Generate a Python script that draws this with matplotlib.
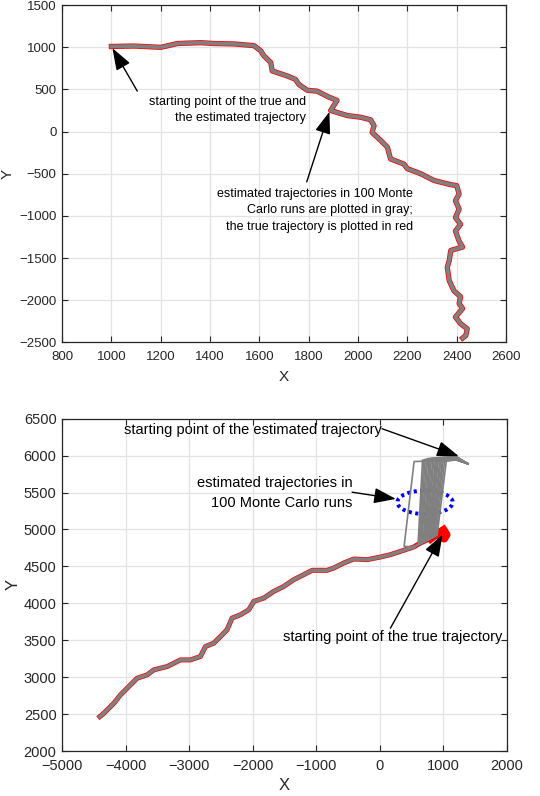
import numpy as np
import matplotlib
matplotlib.use("Agg")
import matplotlib.pyplot as plt
from matplotlib.patches import Ellipse

plt.rcParams['font.family'] = ['Liberation Sans', 'DejaVu Sans']

# ---- top panel: true trajectory (x, y) ----
top_x = [1000, 1092, 1200, 1268, 1362, 1416, 1497, 1578, 1605, 1618, 1646, 1652,
         1672, 1713, 1746, 1760, 1794, 1834, 1881, 1915, 1902, 1889, 1957, 2011,
         2051, 2065, 2057, 2092, 2119, 2132, 2186, 2200, 2254, 2308, 2376, 2400,
         2410, 2395, 2410, 2395, 2416, 2395, 2410, 2424, 2376, 2370, 2362, 2370,
         2389, 2416, 2410, 2424, 2395, 2416, 2443, 2437, 2424]
top_y = [1010, 1015, 1000, 1045, 1055, 1045, 1040, 1020, 960, 900, 820, 720,
         700, 660, 620, 560, 490, 480, 410, 370, 310, 250, 190, 170,
         140, 70, -10, -105, -185, -325, -385, -440, -500, -580, -630, -640,
         -740, -820, -920, -1020, -1100, -1180, -1300, -1370, -1410, -1530, -1610, -1770,
         -1890, -1960, -2040, -2100, -2200, -2280, -2340, -2420, -2450]

# ---- bottom panel: true trajectory ----
bot_x = [1000, 1045, 1010, 960, 900, 860, 800, 637, 532, 323, 165, 8,
         -202, -411, -569, -726, -831, -1067, -1198, -1356, -1513, -1670, -1827, -1985,
         -2063, -2195, -2326, -2405, -2509, -2614, -2745, -2824, -2981, -3138, -3348, -3558,
         -3663, -3820, -3951, -4082, -4187, -4344, -4407]
bot_y = [4990, 4930, 4880, 4900, 4960, 4920, 4880, 4817, 4763, 4704, 4659, 4627,
         4591, 4600, 4546, 4478, 4447, 4447, 4388, 4320, 4229, 4162, 4071, 4026,
         3913, 3845, 3800, 3642, 3551, 3461, 3415, 3280, 3234, 3234, 3144, 3099,
         3031, 2986, 2873, 2760, 2646, 2511, 2466]

# estimated runs (bottom): start point, top turning point, bottom of the drop
est_start = (1385, 5890)
run_top_x = [538, 670, 690, 710, 730, 750, 770, 790, 810, 830, 850, 870, 890,
             905, 920, 940, 960, 980, 1000, 1020, 1045]
run_top_y = [5940, 5960, 5950, 5970, 5945, 5980, 5955, 5965, 5985, 5950, 5970,
             5940, 5975, 5960, 5990, 5950, 5965, 5945, 5980, 5960, 5950]
run_bot_x = [380, 600, 615, 630, 645, 660, 680, 695, 710, 725, 740, 755, 770,
             785, 800, 815, 830, 845, 860, 880, 900]
run_bot_y = [4772, 4798, 4806, 4813, 4821, 4826, 4833, 4839, 4845, 4851, 4856,
             4862, 4868, 4874, 4880, 4886, 4892, 4898, 4905, 4915, 4925]
merge_pt = (532, 4763)

RED = '#ff0000'
GRAY = '#808080'
DARK = '#262626'


def style(ax, fs):
    ax.grid(True, color='#e3e3e3', lw=0.9)
    ax.set_axisbelow(True)
    ax.tick_params(direction='in', top=True, right=True, length=4,
                   width=0.8, colors=DARK, labelsize=fs, pad=4)
    ax.tick_params(axis='x', pad=6)
    for sp in ax.spines.values():
        sp.set_color(DARK)
        sp.set_linewidth(0.9)


def arrow(ax, tail, tip):
    ax.annotate('', xy=tip, xytext=tail,
                arrowprops=dict(arrowstyle='-|>,head_length=0.9,head_width=0.32',
                                color='k', lw=1.0, shrinkA=0, shrinkB=0,
                                mutation_scale=15))


fig = plt.figure(figsize=(5.4, 7.96), dpi=100)

# ---------------- top ----------------
ax1 = fig.add_axes([0.115, 0.570, 0.822, 0.4235])
ax1.plot(top_x, top_y, color=RED, lw=3.8, solid_joinstyle='round')
ax1.plot(top_x, top_y, color=GRAY, lw=2.7, solid_joinstyle='round')
ax1.set_xlim(800, 2600)
ax1.set_ylim(-2500, 1500)
ax1.set_xticks(np.arange(800, 2601, 200))
ax1.set_yticks(np.arange(-2500, 1501, 500))
style(ax1, 9.5)
ax1.set_xlabel('X', fontsize=11, color=DARK, labelpad=5)
ax1.set_ylabel('Y', fontsize=11, color=DARK, labelpad=3)

ax1.text(1790, 255, 'starting point of the true and\nthe estimated trajectory',
         ha='right', va='center', fontsize=9, linespacing=1.45)
arrow(ax1, (1105, 480), (1004, 990))
ax1.text(2222, -936, 'estimated trajectories in 100 Monte\nCarlo runs are plotted in gray;\n'
         'the true trajectory is plotted in red',
         ha='right', va='center', fontsize=9, linespacing=1.45)
arrow(ax1, (1792, -597), (1884, 235))

# ---------------- bottom ----------------
ax2 = fig.add_axes([0.115, 0.0565, 0.824, 0.4175])
ax2.plot(bot_x, bot_y, color=RED, lw=3.6, solid_joinstyle='round')
# red start blob
ax2.plot(bot_x[:7], bot_y[:7], color=RED, lw=6, solid_joinstyle='round')
for tx, ty, bx, by in zip(run_top_x, run_top_y, run_bot_x, run_bot_y):
    xs = [est_start[0], 1200, tx, bx, merge_pt[0]]
    ys = [est_start[1], ty, ty - 20, by, merge_pt[1]]
    ax2.plot(xs, ys, color=GRAY, lw=1.2)
ax2.plot(bot_x[8:], bot_y[8:], color=GRAY, lw=2.6, solid_joinstyle='round')
ax2.add_patch(Ellipse((710, 5368), 870, 318, fill=False, ec='#0000ff',
                      lw=2.8, ls=(0, (0.8, 0.9))))
ax2.set_xlim(-5000, 2000)
ax2.set_ylim(2000, 6500)
ax2.set_xticks(np.arange(-5000, 2001, 1000))
ax2.set_yticks(np.arange(2000, 6501, 500))
style(ax2, 10.5)
ax2.set_xlabel('X', fontsize=12, color=DARK, labelpad=3)
ax2.set_ylabel('Y', fontsize=12, color=DARK, labelpad=2)

ax2.text(34, 6345, 'starting point of the estimated trajectory',
         ha='right', va='center', fontsize=10.5)
arrow(ax2, (34, 6364), (1240, 5993))
ax2.text(-430, 5491, 'estimated trajectories in\n100 Monte Carlo runs',
         ha='right', va='center', fontsize=10.5, linespacing=1.5)
arrow(ax2, (-438, 5505), (250, 5414))
ax2.text(207, 3542, 'starting point of the true trajectory',
         ha='center', va='center', fontsize=10.5)
arrow(ax2, (165, 3664), (985, 4931))

fig.savefig('out.png', dpi=100)
